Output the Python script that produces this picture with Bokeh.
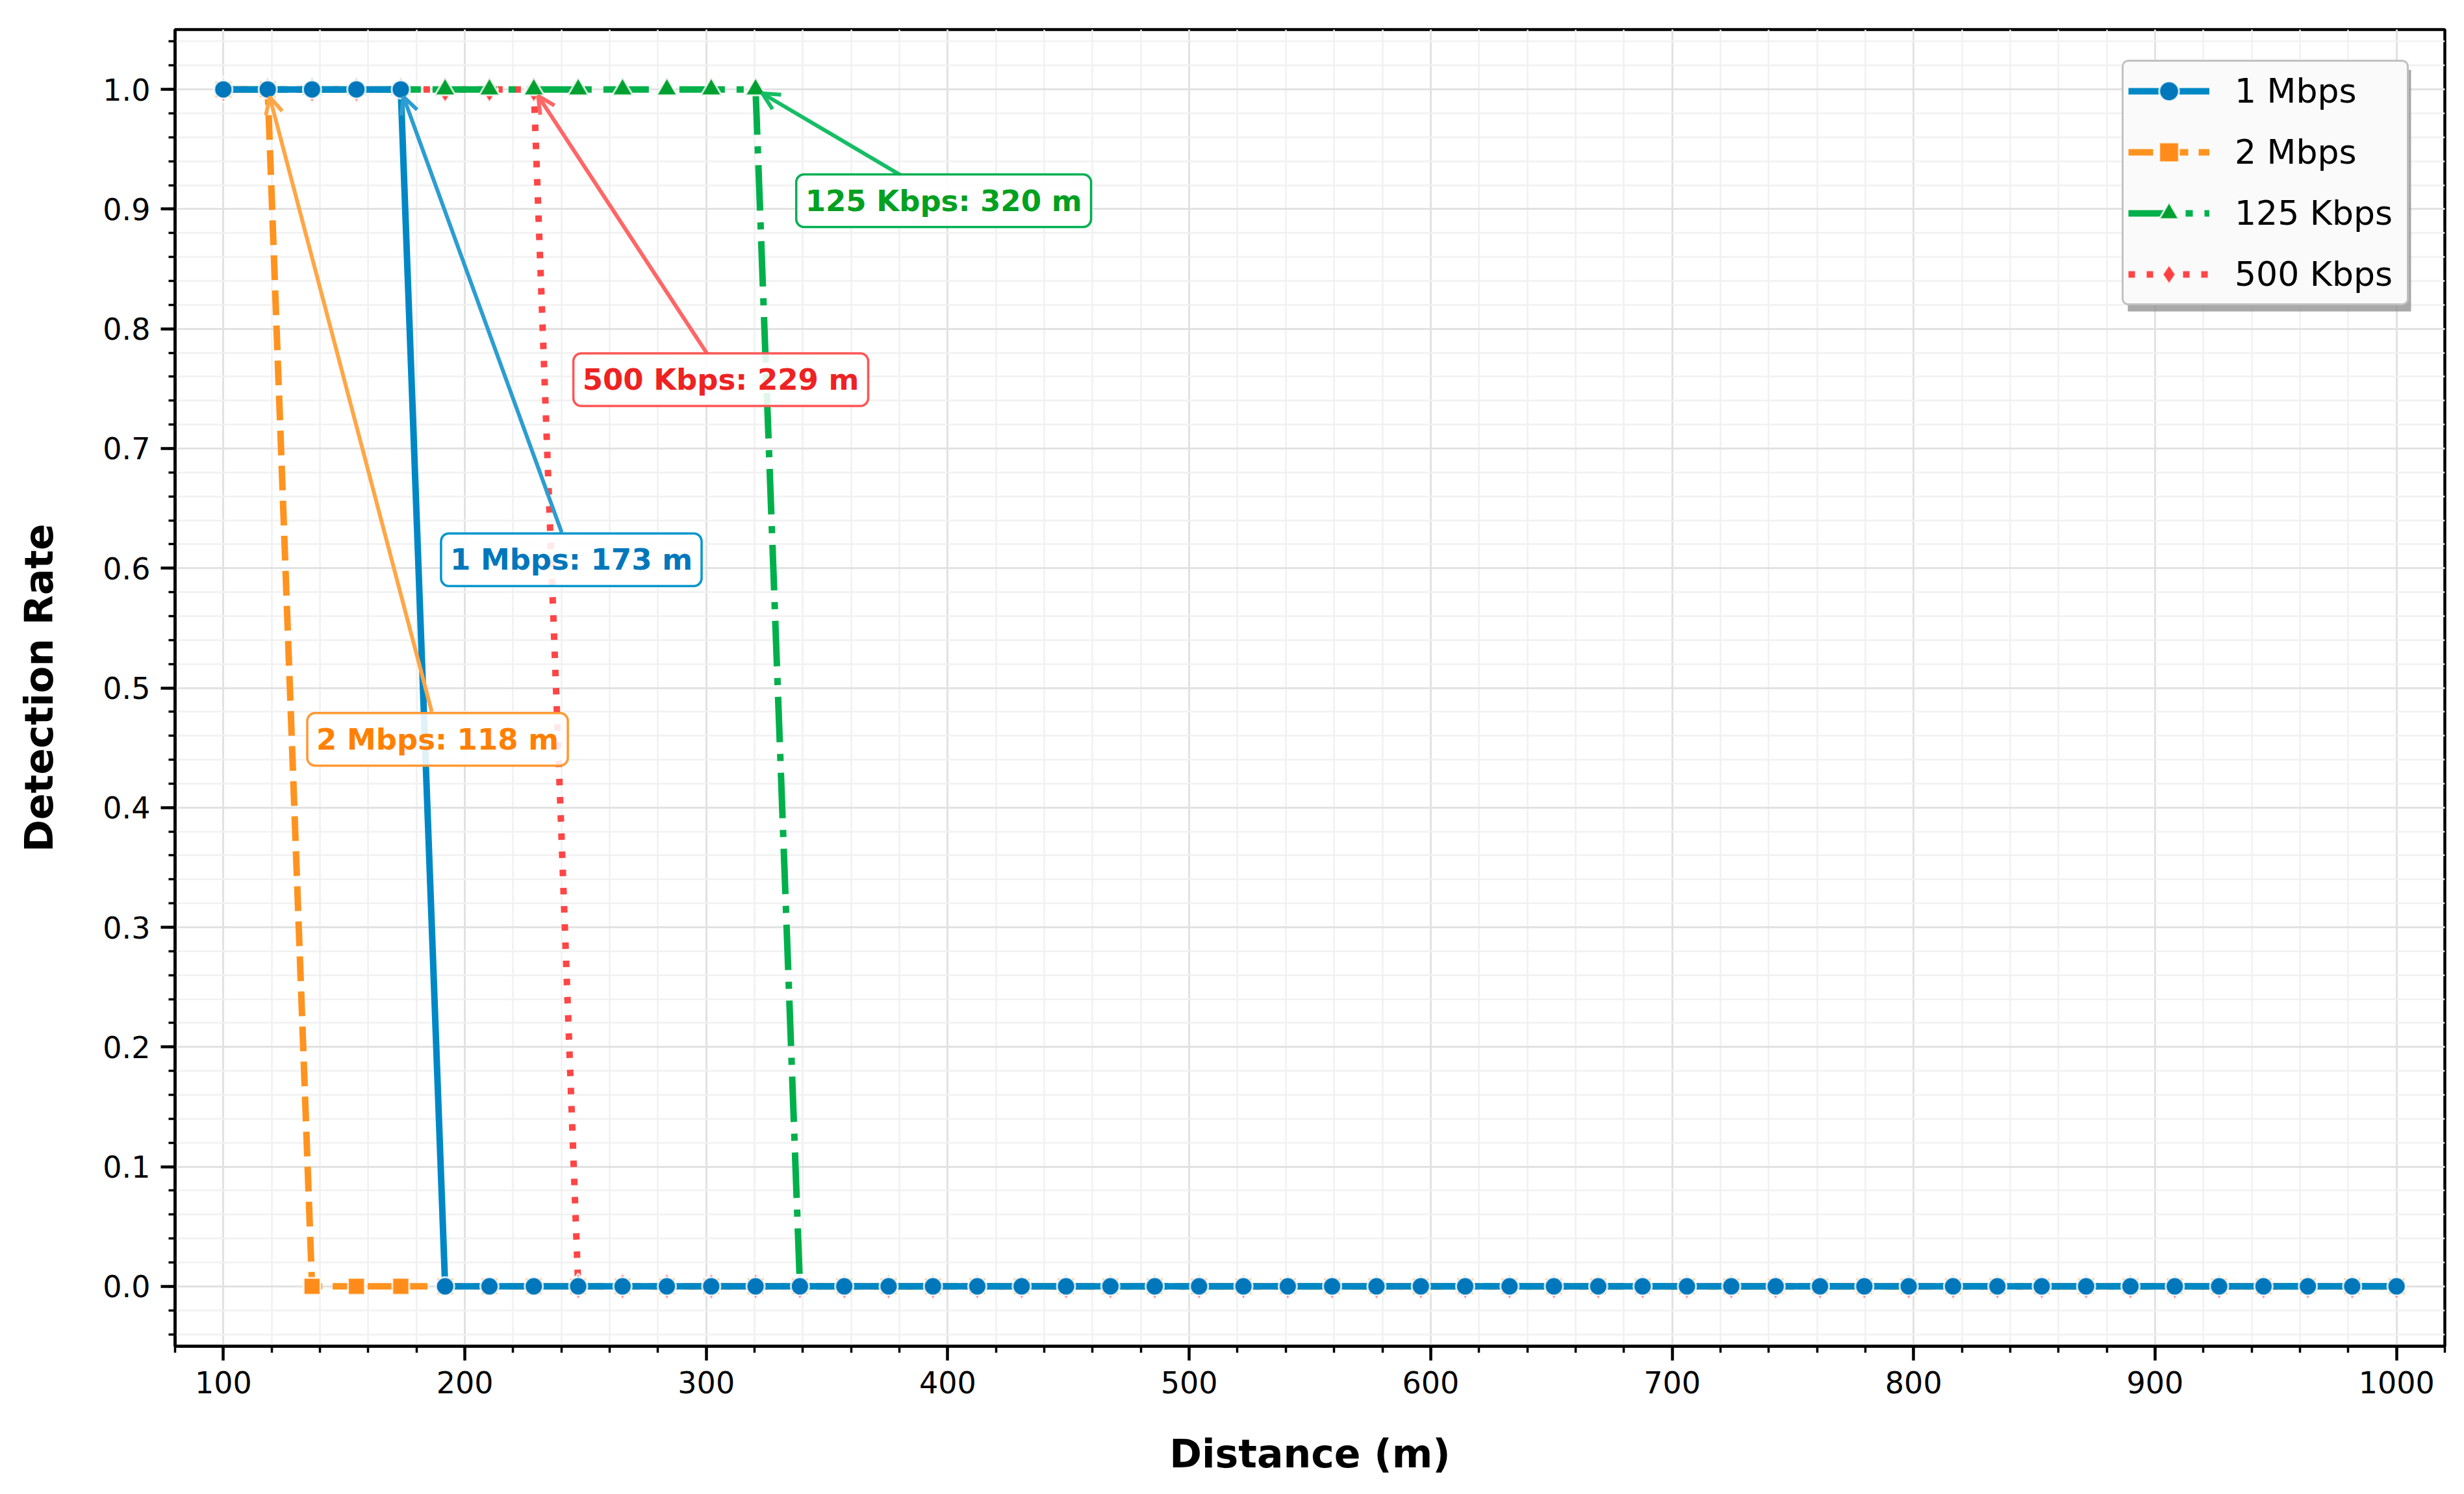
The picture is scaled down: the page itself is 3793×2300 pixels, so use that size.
import math
from bokeh.plotting import figure
from bokeh.models import (Legend, LegendItem, Label, Arrow, OpenHead,
                          SingleIntervalTicker, NumeralTickFormatter, BoxAnnotation)
from bokeh.embed import file_html
from bokeh.resources import INLINE

# ---------------- data ----------------
distance_m = [100.00, 118.37, 136.73, 155.10, 173.47, 191.84, 210.20, 228.57, 246.94, 265.31,
              283.67, 302.04, 320.41, 338.78, 357.14, 375.51, 393.88, 412.24, 430.61, 448.98,
              467.35, 485.71, 504.08, 522.45, 540.82, 559.18, 577.55, 595.92, 614.29, 632.65,
              651.02, 669.39, 687.76, 706.12, 724.49, 742.86, 761.22, 779.59, 797.96, 816.33,
              834.69, 853.06, 871.43, 889.80, 908.16, 926.53, 944.90, 963.27, 981.63, 1000.00]

rate_1mbps = [1, 1, 1, 1, 1, 0, 0, 0, 0, 0,
              0, 0, 0, 0, 0, 0, 0, 0, 0, 0,
              0, 0, 0, 0, 0, 0, 0, 0, 0, 0,
              0, 0, 0, 0, 0, 0, 0, 0, 0, 0,
              0, 0, 0, 0, 0, 0, 0, 0, 0, 0]
rate_2mbps = [1, 1, 0, 0, 0, 0, 0, 0, 0, 0,
              0, 0, 0, 0, 0, 0, 0, 0, 0, 0,
              0, 0, 0, 0, 0, 0, 0, 0, 0, 0,
              0, 0, 0, 0, 0, 0, 0, 0, 0, 0,
              0, 0, 0, 0, 0, 0, 0, 0, 0, 0]
rate_125kbps = [1, 1, 1, 1, 1, 1, 1, 1, 1, 1,
                1, 1, 1, 0, 0, 0, 0, 0, 0, 0,
                0, 0, 0, 0, 0, 0, 0, 0, 0, 0,
                0, 0, 0, 0, 0, 0, 0, 0, 0, 0,
                0, 0, 0, 0, 0, 0, 0, 0, 0, 0]
rate_500kbps = [1, 1, 1, 1, 1, 1, 1, 1, 0, 0,
                0, 0, 0, 0, 0, 0, 0, 0, 0, 0,
                0, 0, 0, 0, 0, 0, 0, 0, 0, 0,
                0, 0, 0, 0, 0, 0, 0, 0, 0, 0,
                0, 0, 0, 0, 0, 0, 0, 0, 0, 0]

series_names = ["1 Mbps", "2 Mbps", "125 Kbps", "500 Kbps"]

# annotation: text, index of last point at 1.0
ann_text = ["1 Mbps: 173 m", "2 Mbps: 118 m", "500 Kbps: 229 m", "125 Kbps: 320 m"]
ann_index = [4, 1, 7, 12]
# label box centres and arrow tails (data units)
ann_box_x = [244.1, 188.7, 306.0, 398.3]
ann_box_y = [0.607, 0.457, 0.7575, 0.907]
ann_tail_x = [240.1, 186.3, 300.4, 380.8]
ann_tail_y = [0.630, 0.480, 0.779, 0.928]

# ---------------- layout ----------------
W, H = 3776, 2284
BL, BR, BT, BB = 269, 13, 45, 212
X0, X1 = 80, 1020
Y0, Y1 = -0.05, 1.05
FW, FH = W - BL - BR, H - BT - BB
SX, SY = FW / (X1 - X0), FH / (Y1 - Y0)
FONT = "DejaVu Sans"

p = figure(width=W, height=H, x_range=(X0, X1), y_range=(Y0, Y1),
           output_backend="svg", toolbar_location=None,
           min_border_left=BL, min_border_right=BR, min_border_top=BT, min_border_bottom=BB)
p.background_fill_color = "white"
p.border_fill_color = "white"
p.outline_line_color = "black"
p.outline_line_width = 4.5
p.outline_line_alpha = 1.0

p.xaxis.ticker = SingleIntervalTicker(interval=100, num_minor_ticks=5)
p.yaxis.ticker = SingleIntervalTicker(interval=0.1, num_minor_ticks=5)
p.xaxis.formatter = NumeralTickFormatter(format="0")
p.yaxis.formatter = NumeralTickFormatter(format="0.0")

for ax in (p.xaxis[0], p.yaxis[0]):
    ax.axis_line_color = "black"
    ax.axis_line_width = 4.5
    ax.major_tick_out = 22
    ax.major_tick_in = 0
    ax.minor_tick_out = 10
    ax.minor_tick_in = 0
    ax.major_tick_line_width = 4.5
    ax.minor_tick_line_width = 3.5
    ax.major_tick_line_color = "black"
    ax.minor_tick_line_color = "black"
    ax.major_label_text_font = FONT
    ax.major_label_text_font_size = "46px"
    ax.major_label_text_color = "black"
    ax.major_label_standoff = 16
    ax.axis_label_text_font = FONT
    ax.axis_label_text_font_size = "60px"
    ax.axis_label_text_font_style = "bold"
    ax.axis_label_text_color = "black"

p.xaxis.axis_label = "Distance (m)"
p.yaxis.axis_label = "Detection Rate"
p.xaxis.axis_label_standoff = 55
p.yaxis.axis_label_standoff = 60

for g in (p.xgrid[0], p.ygrid[0]):
    g.grid_line_color = "#e2e2e2"
    g.grid_line_width = 3
    g.minor_grid_line_color = "#f1f1f1"
    g.minor_grid_line_width = 2.5

# ---------------- series ----------------
styles = {
    "1 Mbps":   dict(y=rate_1mbps, line="#0088C6", fill="#0077BB", dash="solid", marker="circle", size=28),
    "2 Mbps":   dict(y=rate_2mbps, line="#FF931F", fill="#FF8C1A", dash="38 16", marker="square", size=26),
    "125 Kbps": dict(y=rate_125kbps, line="#00B04A", fill="#00A030", dash="70 18 11 18", marker="triangle", size=32),
    "500 Kbps": dict(y=rate_500kbps, line="#FF4545", fill="#FF4040", dash="10 18", marker="diamond", size=40),
}

renderers = {}
for name in ["500 Kbps", "125 Kbps", "2 Mbps", "1 Mbps"]:
    st = styles[name]
    lr = p.line(distance_m, st["y"], line_color=st["line"], line_width=10, line_dash=st["dash"])
    sr = p.scatter(distance_m, st["y"], marker=st["marker"], size=st["size"],
                   fill_color=st["fill"], line_color="white", line_alpha=0.8, line_width=3)
    renderers[name] = [lr, sr]

# ---------------- annotations ----------------
ann_text_color = ["#0077BB", "#FF8000", "#EE2222", "#00A020"]
ann_border_color = ["#0096CC", "#FF9933", "#FF5555", "#00B050"]
ann_arrow_color = ["#2C9DD2", "#FFA646", "#FF6666", "#17BD66"]
ann_series = ["1 Mbps", "2 Mbps", "500 Kbps", "125 Kbps"]

for i in range(4):
    xe = distance_m[ann_index[i]]
    ye = styles[ann_series[i]]["y"][ann_index[i]]
    xs, ys = ann_tail_x[i], ann_tail_y[i]
    dxp, dyp = (xs - xe) * SX, (ys - ye) * SY
    L = math.hypot(dxp, dyp)
    shrink = 12.0
    xe2 = xe + dxp / L * shrink / SX
    ye2 = ye + dyp / L * shrink / SY
    p.add_layout(Arrow(x_start=xs, y_start=ys, x_end=xe2, y_end=ye2,
                       line_color=ann_arrow_color[i], line_width=6,
                       end=OpenHead(size=26, line_color=ann_arrow_color[i], line_width=6)))
    p.add_layout(Label(x=ann_box_x[i], y=ann_box_y[i], text=ann_text[i],
                       text_align="center", text_baseline="middle",
                       text_font=FONT, text_font_size="45px", text_font_style="bold",
                       text_color=ann_text_color[i],
                       background_fill_color="white", background_fill_alpha=0.88,
                       border_line_color=ann_border_color[i], border_line_width=3.5,
                       padding=14, border_radius=12))

# ---------------- legend ----------------
LEG_PAD = 7
GLYPH_W, GLYPH_H, LEG_SPACING, LABEL_STANDOFF, LABEL_W = 125, 76, 18, 39, 258
LEG_W = 2 * LEG_PAD + GLYPH_W + LABEL_STANDOFF + LABEL_W
LEG_H = 4 * GLYPH_H + 3 * LEG_SPACING + 2 * LEG_PAD
LEG_LEFT_PX = 2997      # from frame left
LEG_TOP_PX = 53         # from frame top
SH = 9
shadow = BoxAnnotation(left=X0 + (LEG_LEFT_PX + SH) / SX,
                       right=X0 + (LEG_LEFT_PX + LEG_W + SH) / SX,
                       top=Y1 - (LEG_TOP_PX + SH) / SY,
                       bottom=Y1 - (LEG_TOP_PX + LEG_H + SH) / SY,
                       fill_color="#8c8c8c", fill_alpha=0.75, line_color=None)
p.add_layout(shadow)

legend = Legend(items=[LegendItem(label=n, renderers=renderers[n]) for n in series_names],
                location=(LEG_LEFT_PX, FH - LEG_TOP_PX - LEG_H))
legend.margin = 0
legend.padding = LEG_PAD
legend.spacing = LEG_SPACING
legend.glyph_width = GLYPH_W
legend.glyph_height = GLYPH_H
legend.label_height = GLYPH_H
legend.label_width = LABEL_W
legend.label_standoff = LABEL_STANDOFF
legend.label_text_font = FONT
legend.label_text_font_size = "52px"
legend.label_text_color = "black"
legend.background_fill_color = "#fafafa"
legend.background_fill_alpha = 1.0
legend.border_line_color = "#888888"
legend.border_line_width = 3.5
if "border_radius" in Legend.properties():
    legend.border_radius = 10
p.add_layout(legend)

open("out.html", "w").write(file_html(p, INLINE))
